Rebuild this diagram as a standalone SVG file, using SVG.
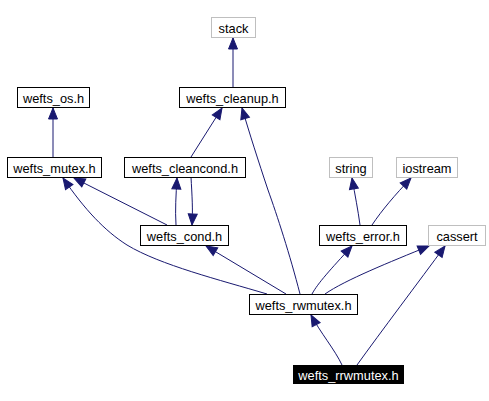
<svg xmlns="http://www.w3.org/2000/svg" width="489" height="401" viewBox="0 0 489 401">
<style>
  .box { fill: #ffffff; stroke: #000000; stroke-width: 1; }
  .ext { fill: #ffffff; stroke: #bfbfbf; stroke-width: 1; }
  .cur { fill: #000000; stroke: #000000; stroke-width: 1; }
  text { font-family: "Liberation Sans", Arial, Helvetica, sans-serif; font-size: 12.8px; text-anchor: middle; fill: #000000; }
  .curt { fill: #ffffff; }
  .edge { fill: none; stroke: #191970; stroke-width: 1; marker-end: url(#arr); }
</style>
<defs>
  <marker id="arr" markerUnits="userSpaceOnUse" markerWidth="11" markerHeight="9" refX="11" refY="4.5" orient="auto" overflow="visible">
    <path d="M0,0 L11,4.5 L0,9 z" fill="#191970" stroke="#191970" stroke-width="1"/>
  </marker>
</defs>
<rect width="489" height="401" fill="#ffffff"/>
<g id="edges">
  <path class="edge" d="M233,87 L233,38"/>
  <path class="edge" d="M53,157 L53,108"/>
  <path class="edge" d="M191,157 L222,108"/>
  <path class="edge" d="M300,294 C 290,255 277,215 268,190 C 258,160 250,135 242,108"/>
  <path class="edge" d="M167,225 L74,178"/>
  <path class="edge" d="M267,294 C 220,280 160,265 127,245 C 105,231 85,210 63,178"/>
  <path class="edge" d="M176,225 C 175,210 176,195 177,178"/>
  <path class="edge" d="M191,177 C 192,195 193,210 192,225"/>
  <path class="edge" d="M286,294 L206,246"/>
  <path class="edge" d="M312,294 C 318,283 330,270 352,246"/>
  <path class="edge" d="M325,294 C 345,280 390,262 429,246"/>
  <path class="edge" d="M342,365 C 335,350 320,332 311,315"/>
  <path class="edge" d="M357,365 C 380,333 420,280 445,246"/>
  <path class="edge" d="M360,225 C 358,210 355,195 352,178"/>
  <path class="edge" d="M372,225 C 382,210 395,195 411,178"/>
</g>
<g id="stack"><rect class="ext" x="211.5" y="17.5" width="44" height="20"/><text x="233.5" y="32.5">stack</text></g>
<g id="wefts_cleanup"><rect class="box" x="179.5" y="87.5" width="106" height="20"/><text x="232.5" y="102.5">wefts_cleanup.h</text></g>
<g id="wefts_os"><rect class="box" x="17.5" y="87.5" width="72" height="20"/><text x="53.5" y="102.5">wefts_os.h</text></g>
<g id="wefts_mutex"><rect class="box" x="7.5" y="157.5" width="94" height="20"/><text x="54.5" y="172.5">wefts_mutex.h</text></g>
<g id="wefts_cleancond"><rect class="box" x="124.5" y="157.5" width="121" height="20"/><text x="185" y="172.5">wefts_cleancond.h</text></g>
<g id="string"><rect class="ext" x="329.5" y="157.5" width="43" height="20"/><text x="351" y="172.5">string</text></g>
<g id="iostream"><rect class="ext" x="396.5" y="157.5" width="61" height="20"/><text x="427" y="172.5">iostream</text></g>
<g id="wefts_cond"><rect class="box" x="140.5" y="225.5" width="88" height="20"/><text x="184.5" y="240.5">wefts_cond.h</text></g>
<g id="wefts_error"><rect class="box" x="319.5" y="225.5" width="87" height="20"/><text x="363" y="240.5">wefts_error.h</text></g>
<g id="cassert"><rect class="ext" x="428.5" y="225.5" width="57" height="20"/><text x="457" y="240.5">cassert</text></g>
<g id="wefts_rwmutex"><rect class="box" x="249.5" y="294.5" width="108" height="20"/><text x="303.5" y="309.5">wefts_rwmutex.h</text></g>
<g id="wefts_rrwmutex"><rect class="cur" x="293.5" y="365.5" width="110" height="18"/><text class="curt" x="348.5" y="379.5">wefts_rrwmutex.h</text></g>
</svg>
